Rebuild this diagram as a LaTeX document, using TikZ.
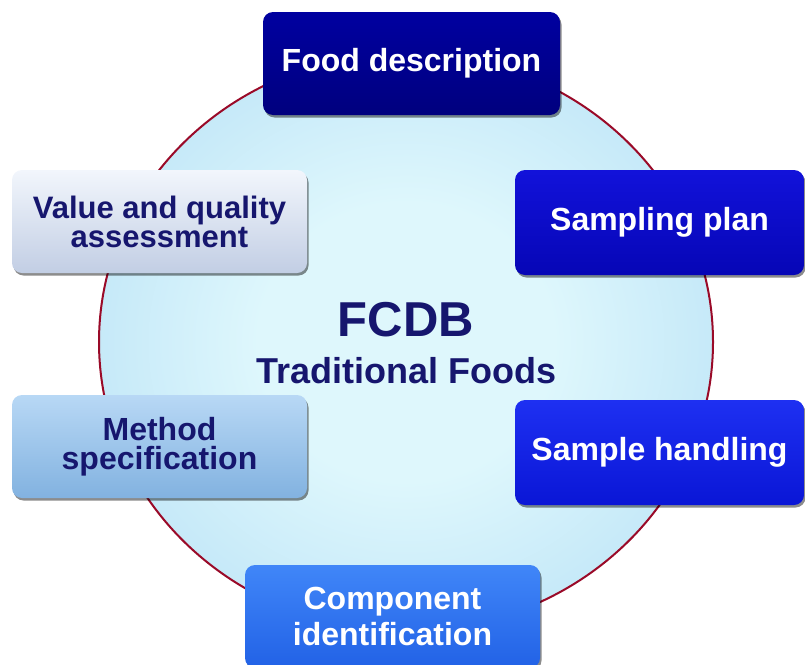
\documentclass[tikz,border=0pt]{standalone}
\usepackage{fontspec}
\setmainfont{Liberation Sans}
\usetikzlibrary{shadows}

% disc colours
\definecolor{discIn}{HTML}{DEF7FC}
\definecolor{discMid}{HTML}{BDE4F7}
\definecolor{discOut}{HTML}{9ACBEE}
\definecolor{discRim}{HTML}{9A0A28}
\definecolor{navyText}{HTML}{16166E}
\pgfdeclareradialshading{discglow}{\pgfpoint{0bp}{0bp}}{%
  color(0bp)=(discIn); color(12bp)=(discIn); color(30bp)=(discMid); color(40bp)=(discOut); color(50bp)=(discOut)}

% box colours
\definecolor{foodTop}{HTML}{0000A0}\definecolor{foodBot}{HTML}{00007E}
\definecolor{sampTop}{HTML}{1212DA}\definecolor{sampBot}{HTML}{0606B6}
\definecolor{handTop}{HTML}{1E30F2}\definecolor{handBot}{HTML}{0A16D6}
\definecolor{compTop}{HTML}{4086F8}\definecolor{compBot}{HTML}{2262E6}
\definecolor{valTop}{HTML}{F2F6FC}\definecolor{valBot}{HTML}{C2CEE4}
\definecolor{methTop}{HTML}{B8D8F5}\definecolor{methBot}{HTML}{82B2E0}

\tikzset{
  stepbox/.style={rounded corners=10pt, inner sep=0pt,
    minimum width=295pt, minimum height=103pt, align=center,
    font=\bfseries\fontsize{32}{36}\selectfont,
    drop shadow={shadow xshift=1.5pt, shadow yshift=-2.5pt, opacity=0.45, fill=black}},
  darkbox/.style={stepbox, text=white},
  lightbox/.style={stepbox, text=navyText},
}

\begin{document}
\begin{tikzpicture}[x=1pt,y=-1pt]
\useasboundingbox (0,0) rectangle (805,664);

% central disc
\shadedraw[shading=discglow, draw=discRim, line width=2pt]
  (406,342) ellipse [x radius=307pt, y radius=289pt];

% title in the middle of the disc
\node[text=navyText, font=\bfseries\fontsize{49}{52}\selectfont] (fcdb) at (406,320) {FCDB};
\node[text=navyText, font=\bfseries\fontsize{36}{40}\selectfont] (trad) at (406,371) {Traditional Foods};

% steps around the disc
\node[darkbox, minimum width=297pt, top color=foodTop, bottom color=foodBot]
  (food) at (411.5,63.5) {Food description};
\node[darkbox, minimum width=289pt, minimum height=105pt, top color=sampTop, bottom color=sampBot]
  (plan) at (659.5,222.5) {Sampling plan};
\node[darkbox, minimum width=289pt, minimum height=105pt, top color=handTop, bottom color=handBot]
  (hand) at (659.5,452.5) {Sample handling};
\node[darkbox, top color=compTop, bottom color=compBot,
  font=\bfseries\fontsize{32}{36}\selectfont]
  (comp) at (392.5,616.5) {Component\\identification};
\node[lightbox, top color=valTop, bottom color=valBot,
  font=\bfseries\fontsize{31}{29}\selectfont]
  (value) at (159.5,221.5) {Value and quality\\assessment};
\node[lightbox, top color=methTop, bottom color=methBot,
  font=\bfseries\fontsize{32}{29}\selectfont]
  (method) at (159.5,446.5) {Method\\specification};
\end{tikzpicture}
\end{document}
